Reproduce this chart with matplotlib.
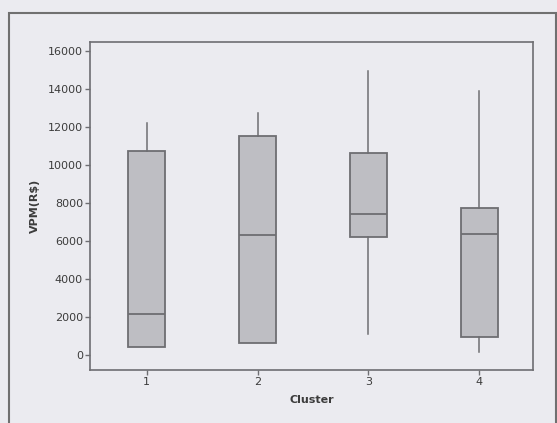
import matplotlib
matplotlib.use("Agg")
import matplotlib.pyplot as plt
from matplotlib.patches import Rectangle

clusters = ["1", "2", "3", "4"]
whislo = [400, 650, 1100, 180]
q1 = [400, 650, 6200, 950]
med = [2150, 6300, 7400, 6350]
q3 = [10700, 11500, 10600, 7700]
whishi = [12200, 12700, 14900, 13850]
yticks = [0, 2000, 4000, 6000, 8000, 10000, 12000, 14000, 16000]

bg = "#ebebf0"
line_col = "#6e6e72"
text_col = "#3c3c3c"

fig = plt.figure(figsize=(5.57, 4.23), dpi=100, facecolor=bg)
ax = fig.add_axes([90/557, 1-370/423, (532.7-90)/557, (370-42)/423])
ax.set_facecolor(bg)

stats = []
for i, c in enumerate(clusters):
    stats.append(dict(label=c, whislo=whislo[i], q1=q1[i], med=med[i],
                      q3=q3[i], whishi=whishi[i], fliers=[]))

ax.bxp(stats, positions=[1, 2, 3, 4], widths=0.33, showcaps=False,
       patch_artist=True,
       boxprops=dict(facecolor="#bebec3", edgecolor=line_col, linewidth=1.3),
       medianprops=dict(color=line_col, linewidth=1.3),
       whiskerprops=dict(color=line_col, linewidth=1.1))

ax.set_xlim(0.49, 4.48)
ax.set_ylim(-790, 16450)
ax.set_yticks(yticks)
ax.set_yticklabels([str(v) for v in yticks])
ax.set_xticks([1, 2, 3, 4])
ax.set_xticklabels(clusters)
for s in ax.spines.values():
    s.set_color(line_col)
    s.set_linewidth(1.2)
ax.tick_params(axis="both", direction="out", length=3.5, width=1.0,
               color=line_col, labelsize=8, labelcolor=text_col, pad=1.5)
ax.set_ylabel("VPM(R$)", fontsize=8, fontweight="bold", color=text_col, labelpad=6)
ax.set_xlabel("Cluster", fontsize=8, fontweight="bold", color=text_col, labelpad=6)

fig.patches.append(Rectangle((9/557, -0.05), (556-9)/557, 1.05-13/423,
                             transform=fig.transFigure, fill=False,
                             edgecolor="#707070", linewidth=1.5))

fig.savefig("out.png", dpi=100, facecolor=bg)
